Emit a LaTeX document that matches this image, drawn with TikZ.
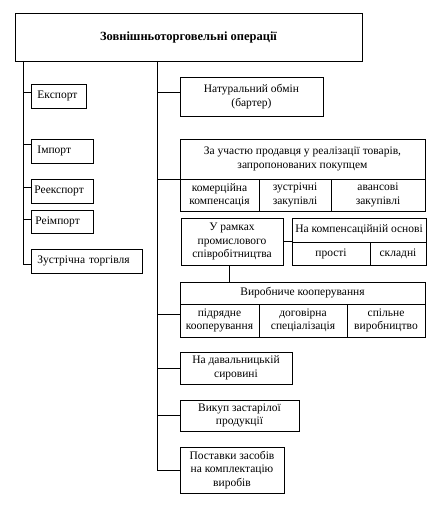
\documentclass[tikz,border=0pt]{standalone}
\usepackage{fontspec}
\setmainfont{Liberation Serif}
\begin{document}
\begin{tikzpicture}[x=1pt,y=-1pt,
  box/.style={draw, line width=0.9pt, inner sep=1pt, align=center,
    font=\fontsize{11.5}{13.5}\selectfont},
  lbox/.style={box, inner xsep=6pt, align=left, anchor=west},
  conn/.style={line width=0.9pt}]
\useasboundingbox[fill=white] (0,0) rectangle (445,505);
% title
\node[box, minimum width=347, minimum height=48, font=\fontsize{12.5}{14}\selectfont\bfseries] (top) at (188.5,37) {Зовнішньоторговельні операції};
% left column
\node[lbox, text width=43, minimum height=24] (exp) at (31,96) {Експорт};
\node[lbox, text width=50, minimum height=24] (imp) at (31,151) {Імпорт};
\node[lbox, text width=50, minimum height=24, inner xsep=3pt, text width=56] (reexp) at (31,191) {Реекспорт};
\node[lbox, text width=50, minimum height=23, inner xsep=4pt, text width=54] (reimp) at (31,221.5) {Реімпорт};
\node[lbox, text width=99, minimum height=24] (zust) at (31,261) {Зустрічна торгівля};
% right column
\node[box, minimum width=143, minimum height=39] (nat) at (251.5,96.5) {Натуральний обмін\\(бартер)};
\node[box, minimum width=245, minimum height=40] (zaH) at (302.5,159) {За участю продавця у реалізації товарів,\\запропонованих покупцем};
\node[box, minimum width=79, minimum height=32] (za1) at (219.5,195) {комерційна\\компенсація};
\node[box, minimum width=72, minimum height=32] (za2) at (295,195) {зустрічні\\закупівлі};
\node[box, minimum width=94, minimum height=32] (za3) at (378,195) {авансові\\закупівлі};
\node[box, minimum width=102, minimum height=47] (urm) at (232,241.5) {У рамках\\промислового\\співробітництва};
\node[box, minimum width=134, minimum height=24] (kompH) at (359,230) {На компенсаційній основі};
\node[box, minimum width=78, minimum height=23] (komp1) at (331,253.5) {прості};
\node[box, minimum width=56, minimum height=23] (komp2) at (398,253.5) {складні};
\node[box, minimum width=245, minimum height=22] (vyrH) at (302.5,293) {Виробниче кооперування};
\node[box, minimum width=79, minimum height=33] (vyr1) at (219.5,320.5) {підрядне\\кооперування};
\node[box, minimum width=88, minimum height=33] (vyr2) at (303,320.5) {договірна\\спеціалізація};
\node[box, minimum width=78, minimum height=33] (vyr3) at (386,320.5) {спільне\\виробництво};
\node[box, minimum width=112, minimum height=32] (dav) at (236,368) {На давальницькій\\сировині};
\node[box, minimum width=119, minimum height=31] (vyk) at (239.5,415.5) {Викуп застарілої\\продукції};
\node[box, minimum width=104, minimum height=46] (post) at (232,470) {Поставки засобів\\на комплектацію\\виробів};
% trunks
\coordinate (ltop) at (23,61);
\coordinate (lbot) at (23,264);
\coordinate (mtop) at (157,61);
\coordinate (mbot) at (157,470);
\draw[conn] (ltop) -- (lbot) -- ([yshift=-3pt]zust.west);
\draw[conn] (mtop) -- (mbot) -- (post.west);
% left ticks
\draw[conn] ([yshift=4pt]exp.west) -- ([yshift=4pt]exp.west -| ltop);
\draw[conn] ([yshift=7pt]imp.west) -- ([yshift=7pt]imp.west -| ltop);
\draw[conn] ([yshift=4pt]reexp.west) -- ([yshift=4pt]reexp.west -| ltop);
\draw[conn] ([yshift=2.5pt]reimp.west) -- ([yshift=2.5pt]reimp.west -| ltop);
% right ticks
\draw[conn] ([yshift=4.5pt]nat.west) -- ([yshift=4.5pt]nat.west -| mtop);
\draw[conn] (zaH.south west) -- (zaH.south west -| mtop);
\draw[conn] ([yshift=6.5pt]vyr1.west) -- ([yshift=6.5pt]vyr1.west -| mtop);
\draw[conn] (dav.west) -- (dav.west -| mtop);
\draw[conn] (vyk.west) -- (vyk.west -| mtop);
% inner connectors
\draw[conn] (urm.east) -- (urm.east -| kompH.west);
\draw[conn] ([xshift=-3pt]urm.south) -- ([xshift=-3pt]urm.south |- vyrH.north);
\end{tikzpicture}
\end{document}
